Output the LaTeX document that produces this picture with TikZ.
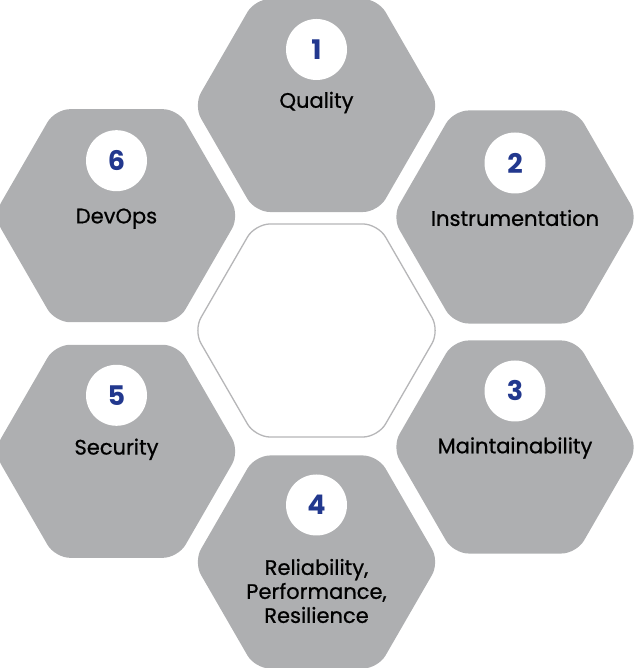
\documentclass[tikz,border=0pt]{standalone}
\usepackage{fontspec}
\setmainfont{Poppins}
\newfontfamily\lblfont[FakeBold=0.7]{Poppins}
\usepackage{tikz}
\usetikzlibrary{shapes.geometric,calc}
\definecolor{hexgray}{RGB}{174,175,177}
\definecolor{rimgray}{RGB}{182,182,184}
\definecolor{numblue}{RGB}{34,56,142}

\begin{document}
\begin{tikzpicture}[
  x=1pt,y=1pt,
  hexa/.style={regular polygon,regular polygon sides=6,minimum size=246pt,inner sep=0pt,rounded corners=15pt,fill=hexgray},
  hub/.style={regular polygon,regular polygon sides=6,minimum size=246pt,inner sep=0pt,rounded corners=15pt,draw=rimgray,line width=1.3pt,fill=white},
  numdot/.style={circle,fill=white,minimum size=61pt,inner sep=0pt,text=numblue,font=\fontsize{27}{27}\selectfont\bfseries},
  lbl/.style={align=center,text=black,font=\lblfont\fontsize{21}{24}\selectfont}
]
  \useasboundingbox (0,0) rectangle (633,668);

  % hexagons
  \node[hub] (hub) at (316.5,337.5) {};
  \node[hexa] (qual) at (316.5,562.5) {};
  \node[hexa] (instr) at (515,451) {};
  \node[hexa] (maint) at (515,221) {};
  \node[hexa] (rel) at (316.5,106) {};
  \node[hexa] (sec) at (116.5,216.7) {};
  \node[hexa] (devops) at (116.5,452.3) {};

  % numbers
  \node[numdot] (n1) at ($(qual)+(0,56)$) {1};
  \node[numdot] (n2) at ($(instr)+(0,54)$) {2};
  \node[numdot] (n3) at ($(maint)+(0,56)$) {3};
  \node[numdot] (n4) at ($(rel)+(0,57)$) {4};
  \node[numdot] (n5) at ($(sec)+(0,56)$) {5};
  \node[numdot] (n6) at ($(devops)+(0,55)$) {6};

  % labels
  \node[lbl] (l1) at ($(qual)+(0,3)$) {Quality};
  \node[lbl] (l2) at ($(instr)+(0,-1)$) {Instrumentation};
  \node[lbl] (l3) at ($(maint)+(0,-1)$) {Maintainability};
  \node[lbl] (l4) at ($(rel)+(0,-29)$) {Reliability,\\Performance,\\Resilience};
  \node[lbl] (l5) at ($(sec)+(0,2)$) {Security};
  \node[lbl] (l6) at ($(devops)+(0,-3)$) {DevOps};
\end{tikzpicture}
\end{document}
